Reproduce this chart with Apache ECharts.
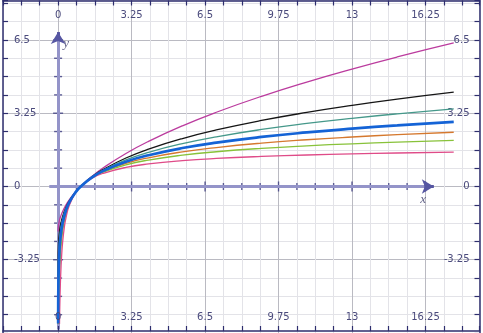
<!DOCTYPE html>
<html>
<head>
<meta charset="utf-8">
<script src="https://cdn.jsdelivr.net/npm/echarts@6/dist/echarts.min.js"></script>
<style>
html,body{margin:0;padding:0;background:#fff;}
#chart{width:483px;height:333px;}
</style>
</head>
<body>
<div id="chart"></div>
<script>
// ---- data ----
const seriesNames = ['m', 'k', 't', 'b', 'o', 'g', 'p'];
const xMagenta = [0, 0.003, 0.01, 0.03, 0.06, 0.1, 0.2, 0.35, 0.5, 0.75, 1, 1.5, 2, 3, 4, 5.5, 7, 9, 11, 13, 15, 17.5];
const yMagenta = [-2, -1.890, -1.8, -1.654, -1.510, -1.368, -1.106, -0.817, -0.586, -0.268, 0, 0.449, 0.828, 1.464, 2, 2.690, 3.292, 4, 4.633, 5.211, 5.746, 6.367];
const xBlack = [0, 0.003, 0.01, 0.03, 0.06, 0.1, 0.2, 0.35, 0.5, 0.75, 1, 1.5, 2, 3, 4, 5.5, 7, 9, 11, 13, 15, 17.5];
const yBlack = [-4, -3.064, -2.735, -2.335, -2.020, -1.751, -1.325, -0.923, -0.636, -0.278, 0, 0.427, 0.757, 1.264, 1.657, 2.126, 2.506, 2.928, 3.285, 3.595, 3.872, 4.181];
const xTeal = [0.00001, 0.0002, 0.001, 0.003, 0.01, 0.03, 0.06, 0.1, 0.2, 0.35, 0.5, 0.75, 1, 1.5, 2, 3, 4, 5.5, 7, 9, 11, 13, 15, 17.5];
const yTeal = [-6.103, -5.241, -4.626, -4.130, -3.502, -2.839, -2.372, -2.001, -1.458, -0.984, -0.664, -0.282, 0, 0.416, 0.724, 1.178, 1.514, 1.900, 2.203, 2.529, 2.796, 3.024, 3.223, 3.441];
const xBlue = [0.0023, 0.003, 0.01, 0.03, 0.06, 0.1, 0.2, 0.35, 0.5, 0.75, 1, 1.5, 2, 3, 4, 5.5, 7, 9, 11, 13, 15, 17.5];
const yBlue = [-6.075, -5.809, -4.605, -3.507, -2.813, -2.303, -1.609, -1.050, -0.693, -0.288, 0, 0.405, 0.693, 1.099, 1.386, 1.705, 1.946, 2.197, 2.398, 2.565, 2.708, 2.862];
const xOrange = [0.0108, 0.015, 0.02, 0.03, 0.06, 0.1, 0.2, 0.35, 0.5, 0.75, 1, 1.5, 2, 3, 4, 5.5, 7, 9, 11, 13, 15, 17.5];
const yOrange = [-6.090, -5.523, -5.046, -4.401, -3.372, -2.668, -1.783, -1.122, -0.724, -0.293, 0, 0.395, 0.664, 1.026, 1.273, 1.535, 1.727, 1.922, 2.072, 2.194, 2.298, 2.406];
const xGreen = [0.0246, 0.03, 0.04, 0.06, 0.1, 0.2, 0.35, 0.5, 0.75, 1, 1.5, 2, 3, 4, 5.5, 7, 9, 11, 13, 15, 17.5];
const yGreen = [-6.098, -5.611, -4.944, -4.082, -3.114, -1.982, -1.200, -0.757, -0.298, 0, 0.386, 0.636, 0.961, 1.172, 1.388, 1.541, 1.691, 1.804, 1.893, 1.968, 2.044];
const xPink = [0.061, 0.07, 0.08, 0.1, 0.13, 0.16, 0.2, 0.27, 0.35, 0.5, 0.75, 1, 1.5, 2, 3, 4, 5.5, 7, 9, 11, 13, 15, 17.5];
const yPink = [-6.098, -5.559, -5.071, -4.325, -3.547, -3.0, -2.472, -1.849, -1.381, -0.828, -0.309, 0, 0.367, 0.586, 0.845, 1.0, 1.147, 1.244, 1.333, 1.397, 1.445, 1.484, 1.522];

const xTickLabels = ['0', '3.25', '6.5', '9.75', '13', '16.25'];
const yTickLabels = ['-3.25', '0', '3.25', '6.5'];
const axisNames = ['x', 'y'];

// ---- view ----
const STEP = 0.8125;
const X_MIN = -2.4375, X_MAX = 18.64;
const Y_MIN = -6.5, Y_MAX = 8.25;

const BORDER = '#2e2e6e';
const LABEL = '#4a4a7c';
const MINOR = '#e3e3e8';
const MAJOR = '#babac2';

function labelFmt(list) {
  return function (v) {
    const s = list.find(l => Math.abs(parseFloat(l) - v) < 1e-6);
    return s === undefined ? '' : s;
  };
}

function frameAxis(extra) {
  return Object.assign({
    type: 'value',
    interval: STEP,
    axisLine: { show: true, onZero: false, lineStyle: { color: BORDER, width: 1.5 } },
    axisTick: { show: true, inside: true, length: 5, lineStyle: { color: BORDER, width: 1.2 } },
    splitLine: { show: false },
    axisLabel: { inside: true, color: LABEL, fontFamily: 'DejaVu Sans', fontSize: 10 }
  }, extra);
}

function zip(xs, ys) { return xs.map((x, i) => [x, ys[i]]); }

const curves = [
  { x: xMagenta, y: yMagenta, color: '#bb3b9e', width: 1.3 },
  { x: xBlack, y: yBlack, color: '#151515', width: 1.3 },
  { x: xTeal, y: yTeal, color: '#45988a', width: 1.3 },
  { x: xOrange, y: yOrange, color: '#d5782e', width: 1.3 },
  { x: xGreen, y: yGreen, color: '#88c23a', width: 1.3 },
  { x: xPink, y: yPink, color: '#df4b88', width: 1.3 },
  { x: xBlue, y: yBlue, color: '#1463d6', width: 2.7 }
];

const xTickPts = [];
for (let k = 1; k <= 20; k++) xTickPts.push([k * STEP, 0]);
const yTickPts = [];
for (let k = -7; k <= 8; k++) if (k !== 0) yTickPts.push([0, k * STEP]);

const chart = echarts.init(document.getElementById('chart'), null, { renderer: 'canvas' });

const ARROW_DARK = '#5656a2';
const option = {
  animation: false,
  backgroundColor: '#ffffff',
  grid: { left: 1.5, right: 3.5, top: 0.5, bottom: 0, containLabel: false },
  xAxis: [
    frameAxis({
      position: 'bottom', min: X_MIN, max: X_MAX, offset: -2, z: 10,
      axisLabel: { inside: true, margin: 9, color: LABEL, fontFamily: 'DejaVu Sans', fontSize: 10, formatter: labelFmt(xTickLabels) }
    }),
    frameAxis({
      position: 'top', min: X_MIN, max: X_MAX, z: 0,
      splitLine: { show: true, lineStyle: { color: [MINOR, MINOR, MINOR, MAJOR], width: 1 } },
      axisLabel: { inside: true, margin: 10, color: LABEL, fontFamily: 'DejaVu Sans', fontSize: 10, formatter: labelFmt(xTickLabels) }
    })
  ],
  yAxis: [
    frameAxis({
      position: 'left', min: Y_MIN, max: Y_MAX, z: 10,
      axisLabel: { inside: true, margin: 11, color: LABEL, fontFamily: 'DejaVu Sans', fontSize: 10, formatter: labelFmt(yTickLabels) }
    }),
    frameAxis({
      position: 'right', min: Y_MIN, max: Y_MAX, z: 0,
      splitLine: { show: true, lineStyle: { color: [MAJOR, MINOR, MINOR, MINOR], width: 1 } },
      axisLabel: { inside: true, margin: 10, color: LABEL, fontFamily: 'DejaVu Sans', fontSize: 10, formatter: labelFmt(yTickLabels) }
    })
  ],
  series: [
    {
      type: 'scatter', name: 'xticks', z: 3, silent: true,
      data: xTickPts,
      symbol: 'rect',
      symbolSize: v => (Math.abs(v[0] / 3.25 - Math.round(v[0] / 3.25)) < 1e-6 ? [1.4, 10] : [1.4, 7]),
      itemStyle: { color: '#3a3a7e' },
      markLine: {
        silent: true, animation: false,
        symbol: 'none',
        label: { show: false },
        lineStyle: { color: '#9494c9', width: 3, type: 'solid' },
        data: [
          [{ coord: [-0.39, 0], symbol: 'none' }, { coord: [16.3, 0], symbol: 'none' }],
          [{ coord: [0, -6.35], symbol: 'none' }, { coord: [0, 6.6], symbol: 'none' }],
          [{ coord: [16.2, 0], symbol: 'none', lineStyle: { color: ARROW_DARK, width: 3 } },
           { coord: [16.62, 0], symbol: 'arrow', symbolSize: [11, 12] }],
          [{ coord: [0, 6.45], symbol: 'none', lineStyle: { color: ARROW_DARK, width: 3 } },
           { coord: [0, 6.85], symbol: 'arrow', symbolSize: [11, 12] }]
        ]
      }
    },
    {
      type: 'scatter', name: 'yticks', z: 3, silent: true,
      data: yTickPts,
      symbol: 'rect',
      symbolSize: v => (Math.abs(v[1] / 3.25 - Math.round(v[1] / 3.25)) < 1e-6 ? [10, 1.4] : [8, 1.4]),
      itemStyle: { color: '#3a3a7e' }
    },
    {
      type: 'scatter', name: 'names', z: 6, silent: true, symbolSize: 0,
      data: [{ value: [16.15, -0.6], name: axisNames[0] }, { value: [0.36, 6.32], name: axisNames[1] }],
      label: { show: true, position: 'inside', formatter: '{b}', color: '#3d3d6b', fontFamily: 'Liberation Serif', fontStyle: 'italic', fontSize: 13 }
    }
  ].concat(curves.map((c, i) => ({
    type: 'line', name: seriesNames[i], z: 5,
    data: zip(c.x, c.y),
    showSymbol: false, symbol: 'none', smooth: true, clip: true,
    lineStyle: { color: c.color, width: c.width }
  })))
};
chart.setOption(option);
</script>
</body>
</html>
